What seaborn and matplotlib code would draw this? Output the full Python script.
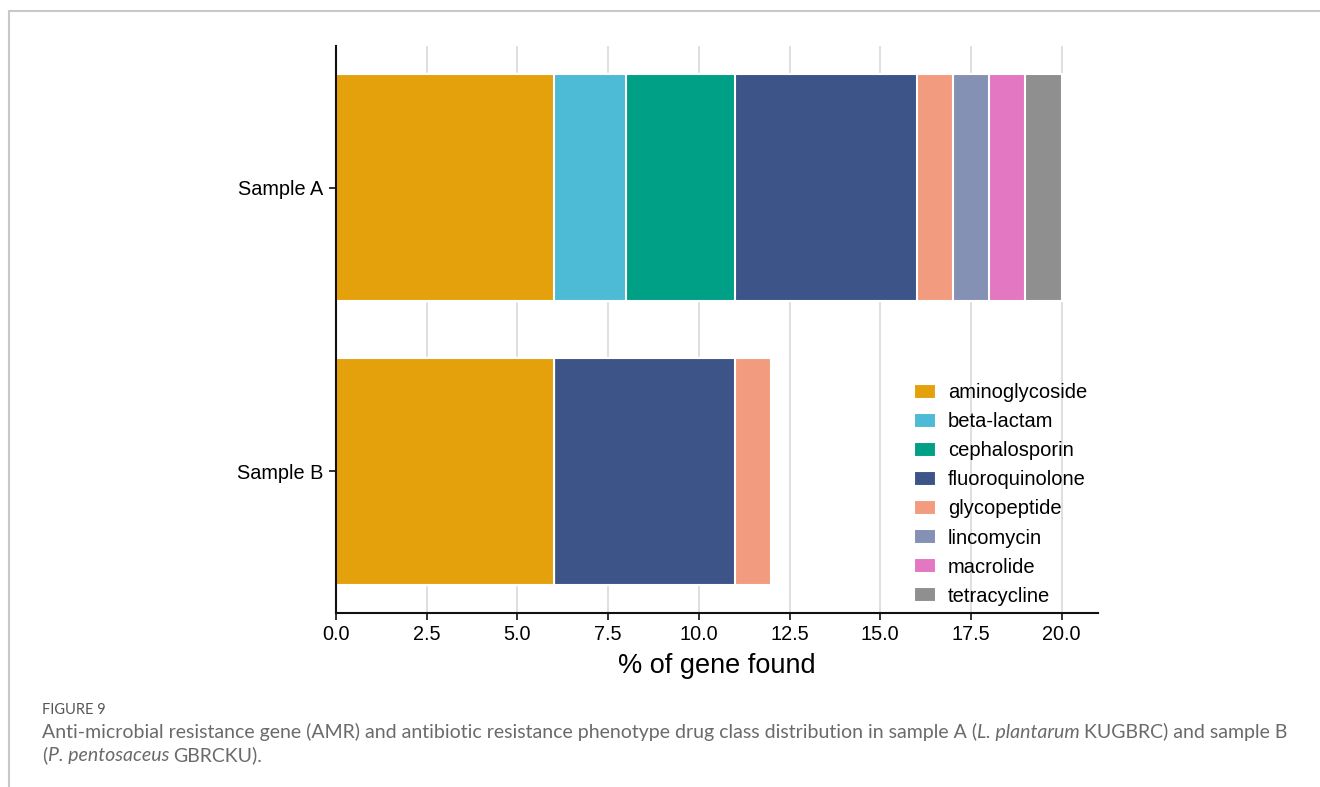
import numpy as np
import pandas as pd
import matplotlib
matplotlib.use('Agg')
import matplotlib.pyplot as plt
import seaborn as sns
from matplotlib.lines import Line2D

# Data
samples = ['Sample A', 'Sample B']
drug_classes = ['aminoglycoside', 'beta-lactam', 'cephalosporin', 'fluoroquinolone',
                'glycopeptide', 'lincomycin', 'macrolide', 'tetracycline']
sample_a = [6, 2, 3, 5, 1, 1, 1, 1]
sample_b = [6, 0, 0, 5, 1, 0, 0, 0]
colors = ['#E4A10C', '#4DBBD5', '#00A087', '#3C5488',
          '#F39B7F', '#8491B4', '#E377C2', '#8F8F8F']

df = pd.DataFrame({'Sample A': sample_a, 'Sample B': sample_b}, index=drug_classes)
cum = df.cumsum()

sns.set_style('white')
plt.rcParams['font.family'] = ['Liberation Sans', 'DejaVu Sans']

fig = plt.figure(figsize=(13.2, 7.87), dpi=100)
ax = fig.add_axes([0.2545, 0.2211, 0.5773, 0.7205])

# stacked bars: draw cumulative totals from largest to smallest
for cls, col in reversed(list(zip(drug_classes, colors))):
    plot_df = pd.DataFrame({'sample': samples, 'value': cum.loc[cls, samples].values})
    sns.barplot(data=plot_df, x='value', y='sample', color=col, width=0.8, saturation=1,
                edgecolor='white', linewidth=1.5, label=cls, orient='h', ax=ax)

ax.set_xlim(0, 21)
ax.set_xticks(np.arange(0, 20.1, 2.5))
ax.set_xticklabels([f'{v:.1f}' for v in np.arange(0, 20.1, 2.5)])
ax.grid(axis='x', color='#dcdcdc', linewidth=1.3)
ax.set_axisbelow(True)
sns.despine(ax=ax)
for s in ['left', 'bottom']:
    ax.spines[s].set_color('#111111')
    ax.spines[s].set_linewidth(1.5)
ax.tick_params(axis='both', which='major', labelsize=14.3, length=5, width=1.2,
               color='#111111', labelcolor='black', bottom=True, left=True, pad=4)
ax.set_ylabel('')
ax.set_xlabel('% of gene found', fontsize=19.5, labelpad=6, color='black')

handles, labels = ax.get_legend_handles_labels()
ax.legend(handles[::-1], labels[::-1], loc='lower right', bbox_to_anchor=(1.0095, -0.019),
          frameon=False, fontsize=14.5, handlelength=1.1, handleheight=0.75,
          handletextpad=0.6, labelspacing=0.5, labelcolor='black')

# frame lines
fig.add_artist(Line2D([9 / 1320, 1], [1 - 11 / 787] * 2, color='#c8c8c8', linewidth=1.5))
fig.add_artist(Line2D([9 / 1320] * 2, [0, 1 - 11 / 787], color='#c8c8c8', linewidth=1.5))

# caption
cap_font = ['Lato', 'DejaVu Sans']
fig.text(42 / 1320, 1 - 714 / 787, 'FIGURE 9', fontsize=10.5, color='#555555',
         family=cap_font, va='baseline', ha='left')

renderer = fig.canvas.get_renderer()
cap_size = 14


def draw_runs(x_px, y_px, runs):
    x = x_px
    space = fig.text(0, 0, 'a b', fontsize=cap_size, family=cap_font)
    nospace = fig.text(0, 0, 'ab', fontsize=cap_size, family=cap_font)
    sp = space.get_window_extent(renderer).width - nospace.get_window_extent(renderer).width
    space.remove()
    nospace.remove()
    for txt, style, gap in runs:
        x += gap * sp
        t = fig.text(x / 1320, 1 - y_px / 787, txt, fontsize=cap_size, color='#6a6a6a',
                     family=cap_font, fontstyle=style, va='baseline', ha='left')
        x += t.get_window_extent(renderer).width


draw_runs(42, 738, [('Anti-microbial resistance gene (AMR) and antibiotic resistance phenotype drug class '
                     'distribution in sample A (', 'normal', 0), ('L. plantarum', 'italic', 0),
                    ('KUGBRC) and sample B', 'normal', 0.8)])
draw_runs(42, 761, [('(', 'normal', 0), ('P. pentosaceus', 'italic', 0.1), ('GBRCKU).', 'normal', 0.8)])

fig.savefig('out.png', dpi=100)
